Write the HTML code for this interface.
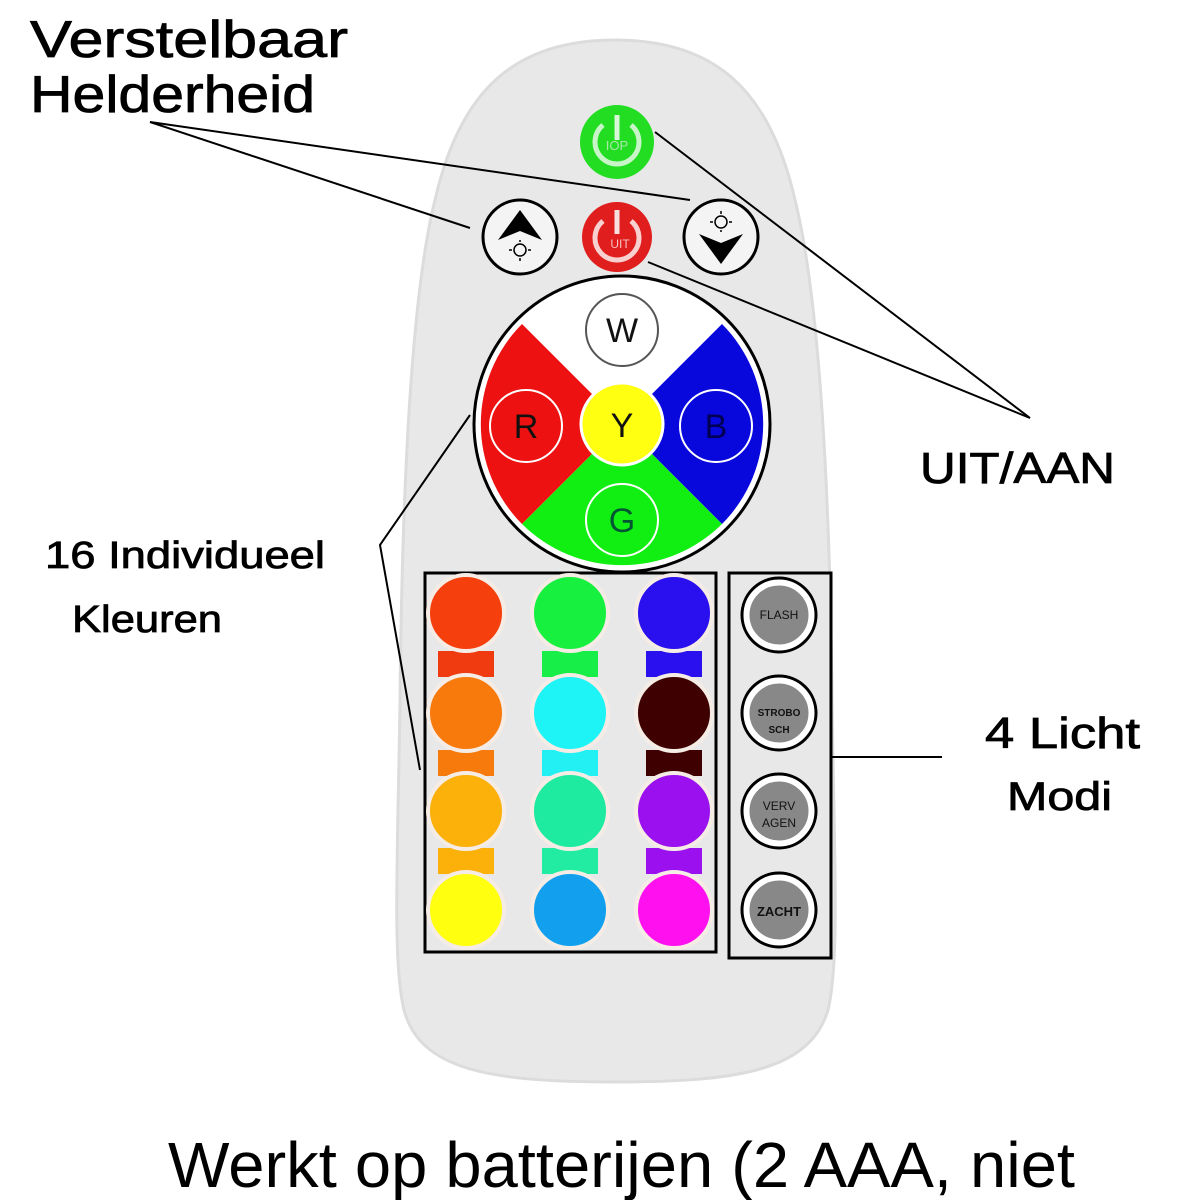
<!DOCTYPE html>
<html><head><meta charset="utf-8"><style>
html,body{margin:0;padding:0;background:#fff;width:1195px;height:1200px;overflow:hidden}
svg{display:block}
text{font-family:"Liberation Sans",sans-serif}
.lb{stroke:#000;stroke-width:0.8}
</style></head><body>
<svg width="1195" height="1200" viewBox="0 0 1195 1200" xmlns="http://www.w3.org/2000/svg">
<!-- remote body -->
<path d="M615,40 C715,40 770,90 795,200 C820,300 830,500 832,700 C834,850 840,960 828,1010 C810,1070 740,1082 615,1082 C490,1082 420,1070 404,1010 C392,960 398,850 400,700 C402,500 410,300 435,200 C460,90 515,40 615,40 Z" fill="#e8e8e8" stroke="#dcdcdc" stroke-width="3"/>

<!-- top labels -->
<text class="lb" x="30" y="57" font-size="52" textLength="318" lengthAdjust="spacingAndGlyphs">Verstelbaar</text>
<text class="lb" x="30" y="112" font-size="52" textLength="285" lengthAdjust="spacingAndGlyphs">Helderheid</text>
<line x1="150" y1="122" x2="470" y2="228" stroke="#000" stroke-width="2"/>
<line x1="150" y1="122" x2="690" y2="200" stroke="#000" stroke-width="2"/>

<!-- power buttons -->
<circle cx="617" cy="142" r="37" fill="#22dd22"/>
<path d="M603,125 A22,22 0 1 0 631,125" fill="none" stroke="#c8f5c8" stroke-width="5"/>
<line x1="617" y1="115" x2="617" y2="140" stroke="#d8f8d8" stroke-width="5"/>
<text x="617" y="150" font-size="13" fill="#a8e8a8" text-anchor="middle">IOP</text>
<circle cx="617" cy="237" r="35" fill="#e01e1e"/>
<path d="M603,221 A22,22 0 1 0 631,221" fill="none" stroke="#f8d0d0" stroke-width="5"/>
<line x1="617" y1="210" x2="617" y2="234" stroke="#f8e0e0" stroke-width="5"/>
<text x="620" y="248" font-size="12" fill="#f8c0c0" text-anchor="middle">UIT</text>

<!-- brightness buttons -->
<circle cx="520" cy="237" r="37" fill="#f4f4f4" stroke="#000" stroke-width="3"/>
<path d="M520,210 L542,240 L520,231 L498,240 Z" fill="#000"/>
<circle cx="520" cy="250" r="6" fill="none" stroke="#000" stroke-width="1.5"/>
<g stroke="#000" stroke-width="1.5"><line x1="520" y1="240" x2="520" y2="242"/><line x1="520" y1="258" x2="520" y2="261"/><line x1="509" y1="250" x2="512" y2="250"/><line x1="528" y1="250" x2="531" y2="250"/></g>
<circle cx="721" cy="237" r="37" fill="#f4f4f4" stroke="#000" stroke-width="3"/>
<path d="M721,264 L743,234 L721,243 L699,234 Z" fill="#000"/>
<circle cx="721" cy="222" r="6" fill="none" stroke="#000" stroke-width="1.5"/>
<g stroke="#000" stroke-width="1.5"><line x1="721" y1="211" x2="721" y2="214"/><line x1="721" y1="230" x2="721" y2="232"/><line x1="710" y1="222" x2="713" y2="222"/><line x1="729" y1="222" x2="732" y2="222"/></g>

<!-- UIT/AAN lines -->
<line x1="655" y1="132" x2="1030" y2="418" stroke="#000" stroke-width="2"/>
<line x1="648" y1="262" x2="1030" y2="418" stroke="#000" stroke-width="2"/>
<text class="lb" x="920" y="483" font-size="44" textLength="195" lengthAdjust="spacingAndGlyphs">UIT/AAN</text>

<!-- color wheel -->
<circle cx="622" cy="424" r="148" fill="#fff" stroke="#000" stroke-width="3"/>
<path d="M622,424 L522,324 A142,142 0 0 1 722,324 Z" fill="#fff"/>
<path d="M622,424 L522,324 A142,142 0 0 0 522,524 Z" fill="#ee1111"/>
<path d="M622,424 L722,324 A142,142 0 0 1 722,524 Z" fill="#0808dd"/>
<path d="M622,424 L522,524 A142,142 0 0 0 722,524 Z" fill="#11ee11"/>
<circle cx="622" cy="424" r="41" fill="#ffff11" stroke="#fff" stroke-width="3"/>
<circle cx="622" cy="330" r="36" fill="#fff" stroke="#555" stroke-width="2"/>
<circle cx="526" cy="426" r="36" fill="none" stroke="#fff" stroke-width="2"/>
<circle cx="716" cy="426" r="36" fill="none" stroke="#fff" stroke-width="2"/>
<circle cx="622" cy="520" r="36" fill="none" stroke="#fff" stroke-width="2"/>
<g font-size="34" text-anchor="middle" fill="#111">
<text x="622" y="342">W</text><text x="526" y="438">R</text><text x="622" y="437">Y</text><text x="716" y="438" fill="#000055">B</text><text x="622" y="532" fill="#053">G</text>
</g>

<!-- color grid -->
<rect x="425" y="573" width="291" height="379" fill="#e8e8e8" stroke="#000" stroke-width="3"/>
<g>
<rect x="438" y="651" width="56" height="26" fill="#f03a10"/><rect x="542" y="651" width="56" height="26" fill="#18ee48"/><rect x="646" y="651" width="56" height="26" fill="#2a10ee"/>
<rect x="438" y="750" width="56" height="26" fill="#f77a0c"/><rect x="542" y="750" width="56" height="26" fill="#22f0f2"/><rect x="646" y="750" width="56" height="26" fill="#3e0000"/>
<rect x="438" y="848" width="56" height="26" fill="#fbb00a"/><rect x="542" y="848" width="56" height="26" fill="#22eca2"/><rect x="646" y="848" width="56" height="26" fill="#9a10ee"/>
</g>
<g stroke="#f6ece6" stroke-width="4">
<circle cx="466" cy="613" r="38" fill="#f53f0c"/><circle cx="570" cy="613" r="38" fill="#18f040"/><circle cx="674" cy="613" r="38" fill="#2a10ee"/>
<circle cx="466" cy="713" r="38" fill="#f87a0c"/><circle cx="570" cy="713" r="38" fill="#1ef4f6"/><circle cx="674" cy="713" r="38" fill="#3e0000"/>
<circle cx="466" cy="811" r="38" fill="#fbb00a"/><circle cx="570" cy="811" r="38" fill="#1eeaa0"/><circle cx="674" cy="811" r="38" fill="#9a10ee"/>
<circle cx="466" cy="910" r="38" fill="#ffff10"/><circle cx="570" cy="910" r="38" fill="#12a0ee"/><circle cx="674" cy="910" r="38" fill="#ff10ee"/>
</g>

<!-- modes -->
<rect x="729" y="573" width="102" height="385" fill="#e8e8e8" stroke="#000" stroke-width="3"/>
<g fill="#888" stroke="#fff" stroke-width="3">
<circle cx="779" cy="615" r="37" fill="#fff" stroke="#000"/><circle cx="779" cy="615" r="31"/>
<circle cx="779" cy="713" r="37" fill="#fff" stroke="#000"/><circle cx="779" cy="713" r="31"/>
<circle cx="779" cy="811" r="37" fill="#fff" stroke="#000"/><circle cx="779" cy="811" r="31"/>
<circle cx="779" cy="910" r="37" fill="#fff" stroke="#000"/><circle cx="779" cy="910" r="31"/>
</g>
<g text-anchor="middle" fill="#111">
<text x="779" y="619" font-size="12">FLASH</text>
<text x="779" y="716" font-size="10" font-weight="bold" font-family="Liberation Serif">STROBO</text>
<text x="779" y="733" font-size="10" font-weight="bold" font-family="Liberation Serif">SCH</text>
<text x="779" y="810" font-size="12">VERV</text>
<text x="779" y="827" font-size="12">AGEN</text>
<text x="779" y="916" font-size="13" font-weight="bold">ZACHT</text>
</g>
<line x1="831" y1="757" x2="942" y2="757" stroke="#000" stroke-width="2"/>
<text class="lb" x="985" y="748" font-size="44" textLength="155" lengthAdjust="spacingAndGlyphs">4 Licht</text>
<text class="lb" x="1007" y="810" font-size="40" textLength="105" lengthAdjust="spacingAndGlyphs">Modi</text>

<!-- 16 colours -->
<polyline points="470,415 380,545 420,770" fill="none" stroke="#000" stroke-width="2"/>
<text class="lb" x="45" y="568" font-size="38" textLength="280" lengthAdjust="spacingAndGlyphs">16 Individueel</text>
<text class="lb" x="72" y="632" font-size="38" textLength="150" lengthAdjust="spacingAndGlyphs">Kleuren</text>

<!-- bottom text -->
<text x="168" y="1187" font-size="64" textLength="907" lengthAdjust="spacingAndGlyphs">Werkt op batterijen (2 AAA, niet</text>
</svg>
</body></html>
